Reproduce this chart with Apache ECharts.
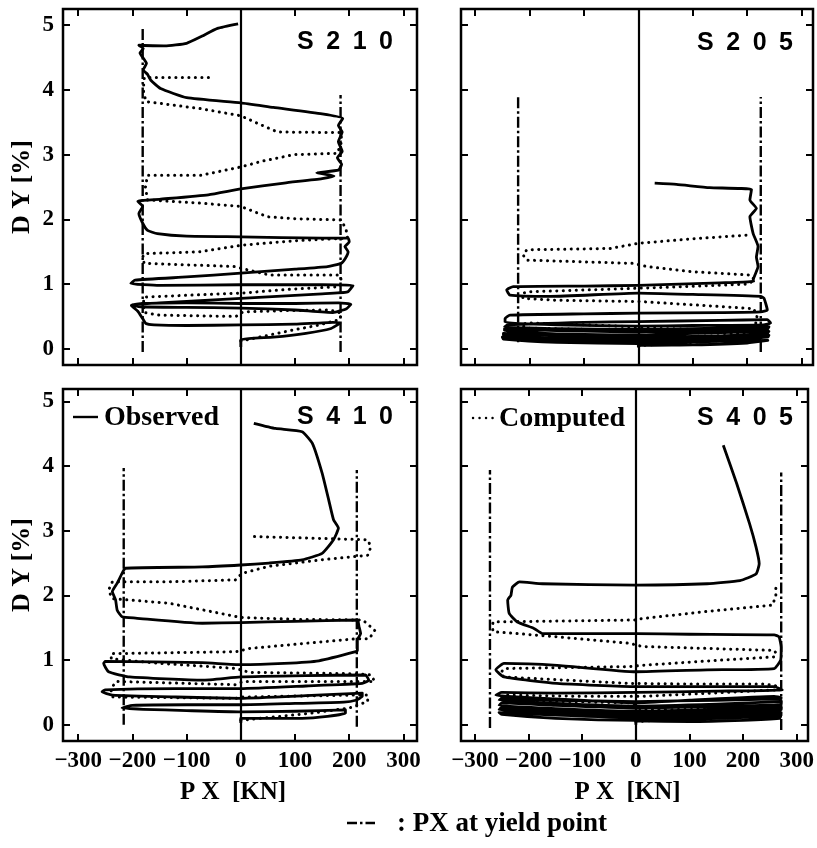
<!DOCTYPE html>
<html>
<head>
<meta charset="utf-8">
<script src="https://cdn.jsdelivr.net/npm/echarts@6/dist/echarts.min.js"></script>
<style>
html,body{margin:0;padding:0;background:#fff;}
#c{width:817px;height:848px;}
</style>
</head>
<body>
<div id="c"></div>
<script>
// ---------- data ----------
const X_TICKS = [-300, -200, -100, 0, 100, 200, 300];
const Y_TICKS = [0, 1, 2, 3, 4, 5];
const PANEL_NAMES = ['S\u20022\u20021\u20020', 'S\u20022\u20020\u20025', 'S\u20024\u20021\u20020', 'S\u20024\u20020\u20025'];

// Observed (solid) curves: [PX kN, DY %]
const obsS210 = [[0,0.03],[0,0.14],[60,0.18],[120,0.24],[165,0.31],[183,0.40],[170,0.41],[100,0.38],[0,0.37],[-100,0.36],[-160,0.37],[-175,0.39],[-182,0.48],[-190,0.58],[-202,0.67],[-180,0.70],[-100,0.71],[0,0.70],[100,0.70],[180,0.71],[203,0.69],[195,0.62],[170,0.56],[100,0.60],[0,0.63],[-100,0.64],[-185,0.65],[-202,0.68],[-150,0.71],[0,0.78],[150,0.85],[197,0.88],[207,0.98],[150,0.99],[0,0.99],[-150,0.98],[-203,1.01],[-195,1.06],[-100,1.11],[0,1.17],[100,1.23],[160,1.27],[185,1.32],[193,1.40],[198,1.50],[192,1.58],[200,1.65],[198,1.71],[150,1.71],[0,1.73],[-100,1.74],[-154,1.78],[-172,1.83],[-181,1.94],[-188,2.09],[-181,2.20],[-190,2.28],[-150,2.31],[-60,2.38],[0,2.47],[80,2.56],[150,2.63],[172,2.67],[140,2.72],[180,2.76],[186,2.85],[178,2.95],[187,3.05],[180,3.20],[187,3.35],[180,3.45],[188,3.56],[150,3.63],[60,3.73],[0,3.80],[-100,3.88],[-148,4.02],[-166,4.15],[-172,4.24],[-180,4.31],[-174,4.41],[-186,4.57],[-180,4.64],[-188,4.69],[-140,4.68],[-100,4.72],[-74,4.82],[-43,4.95],[-5,5.02]];
const obsS205 = [[0,0.02],[0,0.05],[100,0.06],[200,0.09],[238,0.13],[150,0.12],[0,0.08],[-150,0.10],[-248,0.15],[-250,0.18],[-150,0.14],[0,0.11],[150,0.14],[238,0.18],[240,0.21],[150,0.18],[0,0.14],[-150,0.16],[-248,0.21],[-248,0.24],[-150,0.20],[0,0.18],[150,0.20],[237,0.24],[240,0.27],[100,0.24],[0,0.21],[-150,0.23],[-246,0.28],[-246,0.31],[-150,0.28],[0,0.26],[150,0.28],[237,0.30],[240,0.34],[100,0.31],[0,0.30],[-150,0.31],[-246,0.34],[-240,0.37],[-100,0.41],[0,0.42],[150,0.44],[237,0.45],[243,0.40],[230,0.37],[100,0.36],[0,0.35],[-150,0.37],[-245,0.41],[-245,0.47],[-236,0.52],[-100,0.54],[0,0.55],[150,0.56],[225,0.57],[237,0.60],[231,0.78],[225,0.81],[100,0.84],[0,0.86],[-162,0.81],[-236,0.83],[-242,0.91],[-230,0.96],[-100,0.97],[0,0.98],[150,1.02],[212,1.04],[211,1.06],[220,1.27],[217,1.42],[220,1.58],[211,1.78],[205,2.04],[217,2.17],[205,2.30],[208,2.46],[131,2.49],[70,2.54],[30,2.56]];
const obsS410 = [[0,0.03],[0,0.10],[60,0.10],[113,0.10],[160,0.13],[193,0.18],[193,0.23],[100,0.21],[0,0.20],[-100,0.22],[-180,0.24],[-219,0.26],[-200,0.30],[-100,0.31],[0,0.31],[100,0.33],[190,0.35],[212,0.38],[224,0.44],[224,0.49],[120,0.45],[0,0.41],[-120,0.43],[-237,0.46],[-256,0.51],[-250,0.54],[-120,0.56],[0,0.56],[120,0.60],[224,0.64],[236,0.69],[230,0.77],[120,0.76],[0,0.74],[-71,0.69],[-205,0.74],[-244,0.82],[-253,0.95],[-250,0.98],[-71,0.96],[0,0.93],[80,0.95],[144,0.99],[212,1.13],[215,1.15],[215,1.31],[221,1.41],[218,1.52],[215,1.62],[100,1.60],[0,1.58],[-71,1.57],[-194,1.65],[-219,1.67],[-228,1.77],[-231,1.93],[-237,2.06],[-228,2.19],[-219,2.34],[-213,2.42],[-71,2.44],[0,2.47],[52,2.50],[113,2.55],[150,2.65],[171,2.86],[180,3.04],[171,3.17],[162,3.48],[150,3.89],[132,4.35],[113,4.53],[64,4.58],[24,4.66]];
const obsS405 = [[0,0.00],[0,0.06],[100,0.05],[200,0.07],[268,0.10],[270,0.13],[150,0.10],[0,0.07],[-150,0.10],[-250,0.16],[-255,0.19],[-150,0.15],[0,0.11],[150,0.13],[270,0.16],[271,0.19],[150,0.16],[0,0.14],[-150,0.18],[-255,0.23],[-252,0.26],[-150,0.22],[0,0.18],[150,0.20],[270,0.23],[271,0.27],[150,0.24],[0,0.21],[-150,0.25],[-255,0.30],[-250,0.34],[-150,0.30],[0,0.26],[150,0.28],[270,0.31],[271,0.36],[150,0.32],[0,0.29],[-150,0.33],[-255,0.38],[-250,0.41],[-150,0.38],[0,0.36],[150,0.38],[270,0.40],[271,0.42],[258,0.44],[100,0.38],[0,0.34],[-150,0.40],[-261,0.46],[-250,0.50],[-150,0.49],[0,0.50],[150,0.52],[273,0.54],[258,0.59],[100,0.59],[0,0.59],[-147,0.64],[-246,0.74],[-261,0.85],[-246,0.95],[-147,0.92],[0,0.82],[133,0.85],[258,0.87],[270,1.00],[271,1.20],[267,1.36],[258,1.39],[100,1.40],[0,1.41],[-174,1.41],[-190,1.49],[-221,1.59],[-236,1.72],[-239,1.93],[-233,2.00],[-230,2.13],[-217,2.21],[-174,2.18],[0,2.16],[133,2.18],[194,2.23],[224,2.33],[230,2.49],[224,2.75],[212,3.11],[188,3.73],[163,4.32]];

// Computed (dotted) curves
const calS210 = [[0,0.12],[40,0.19],[90,0.28],[140,0.36],[182,0.45],[186,0.55],[164,0.60],[80,0.59],[4,0.57],[-9,0.50],[-80,0.51],[-150,0.52],[-178,0.56],[-180,0.70],[-178,0.80],[-90,0.83],[0,0.86],[90,0.92],[182,0.96],[186,1.05],[182,1.14],[53,1.14],[-12,1.27],[-74,1.29],[-178,1.32],[-182,1.40],[-178,1.47],[-74,1.50],[0,1.60],[100,1.67],[197,1.71],[194,1.85],[185,1.99],[100,2.01],[49,2.04],[0,2.20],[-74,2.25],[-172,2.30],[-176,2.50],[-172,2.68],[-74,2.68],[0,2.81],[40,2.90],[98,3.00],[178,3.02],[186,3.20],[185,3.34],[68,3.35],[40,3.45],[0,3.60],[-74,3.71],[-175,3.82],[-180,4.00],[-178,4.19],[-58,4.19]];
const calS205 = [[0,0.05],[100,0.10],[200,0.16],[228,0.22],[150,0.24],[50,0.26],[0,0.28],[-100,0.30],[-205,0.32],[-215,0.37],[-205,0.40],[-100,0.37],[-9,0.34],[16,0.32],[100,0.30],[194,0.29],[215,0.36],[218,0.50],[212,0.62],[100,0.68],[4,0.73],[-150,0.75],[-212,0.78],[-214,0.85],[-205,0.88],[-21,0.93],[80,0.96],[200,1.00],[214,1.06],[206,1.14],[100,1.19],[16,1.27],[-9,1.32],[-205,1.37],[-212,1.45],[-205,1.53],[-52,1.55],[0,1.63],[100,1.70],[206,1.76]];
const calS410 = [[0,0.07],[60,0.12],[130,0.18],[200,0.26],[234,0.36],[234,0.46],[213,0.46],[4,0.43],[-9,0.41],[-120,0.42],[-236,0.43],[-240,0.55],[-230,0.67],[-9,0.62],[4,0.67],[213,0.67],[247,0.67],[240,0.77],[213,0.79],[16,0.81],[-9,0.87],[-58,0.90],[-150,0.95],[-239,1.02],[-239,1.10],[-9,1.13],[16,1.18],[120,1.26],[213,1.33],[237,1.33],[247,1.46],[225,1.62],[100,1.63],[0,1.66],[-133,1.88],[-237,1.95],[-244,2.08],[-237,2.21],[-133,2.21],[-10,2.24],[2,2.34],[52,2.45],[148,2.55],[234,2.62],[240,2.75],[234,2.86],[21,2.91]];
const calS405 = [[0,0.05],[130,0.12],[258,0.20],[262,0.25],[130,0.24],[12,0.23],[-12,0.34],[-246,0.38],[-252,0.42],[-246,0.46],[-100,0.44],[12,0.44],[140,0.49],[261,0.54],[262,0.60],[240,0.63],[100,0.63],[-12,0.64],[-246,0.74],[-252,0.80],[-246,0.87],[-12,0.90],[12,0.92],[140,0.99],[258,1.05],[262,1.10],[258,1.15],[12,1.21],[-12,1.26],[-147,1.36],[-266,1.44],[-268,1.52],[-266,1.59],[0,1.62],[10,1.64],[130,1.75],[255,1.85],[261,2.00],[261,2.13]];

// PX at yield point (dash-dot verticals)
const yieldLeftX   = [-181, -221, -216, -272];
const yieldRightX  = [184, 225, 214, 271];
const yieldLeftY   = [[-0.05, 4.97], [0.10, 3.92], [0.00, 3.97], [-0.05, 3.94]];
const yieldRightY  = [[-0.05, 3.92], [-0.05, 3.89], [-0.03, 3.94], [-0.08, 3.90]];

const observed = [obsS210, obsS205, obsS410, obsS405];
const computed = [calS210, calS205, calS410, calS405];

// ---------- layout ----------
const GRIDS = [
  {left: 63,  top: 9,   width: 354, height: 356},
  {left: 461, top: 9,   width: 352, height: 356},
  {left: 63,  top: 389, width: 354, height: 352},
  {left: 461, top: 389, width: 352, height: 352}
];
const XR = [[-328, 325], [-326, 321], [-328, 325], [-326, 321]];
const YR = [[-0.25, 5.25], [-0.25, 5.25], [-0.25, 5.19], [-0.25, 5.19]];

const SERIF = '"Liberation Serif", "DejaVu Serif", serif';
const SANS = '"Liberation Sans", "DejaVu Sans", sans-serif';
const fmtX = v => v < 0 ? '\u2212' + (-v) : String(v);

const xAxis = [], yAxis = [], series = [];
GRIDS.forEach((g, i) => {
  const bottomRow = i >= 2, leftCol = i % 2 === 0;
  const tick = {show: true, inside: true, length: 7, lineStyle: {color: '#000', width: 2}};
  ['bottom', 'top'].forEach(pos => {
    const lab = pos === 'bottom' && bottomRow;
    xAxis.push({
      type: 'value', gridIndex: i, position: pos, min: XR[i][0], max: XR[i][1],
      axisLine: {show: false, onZero: false}, splitLine: {show: false},
      axisTick: Object.assign({customValues: X_TICKS}, tick),
      axisLabel: {show: lab, customValues: X_TICKS, formatter: fmtX, color: '#000',
        fontFamily: SERIF, fontSize: 23, fontWeight: 'bold', margin: 9},
      name: lab ? 'P X  [KN]' : '', nameLocation: 'middle', nameGap: 39,
      nameTextStyle: {color: '#000', fontFamily: SERIF, fontSize: 25, fontWeight: 'bold', padding: [0, 14, 0, 0]}
    });
  });
  ['left', 'right'].forEach(pos => {
    const lab = pos === 'left' && leftCol;
    yAxis.push({
      type: 'value', gridIndex: i, position: pos, min: YR[i][0], max: YR[i][1],
      axisLine: {show: false, onZero: false}, splitLine: {show: false},
      axisTick: Object.assign({customValues: Y_TICKS}, tick),
      axisLabel: {show: lab, customValues: Y_TICKS, color: '#000',
        fontFamily: SERIF, fontSize: 23, fontWeight: 'bold', margin: 9},
      name: lab ? 'D Y [%]' : '', nameLocation: 'middle', nameGap: 28,
      nameTextStyle: {color: '#000', fontFamily: SERIF, fontSize: 26, fontWeight: 'bold'}
    });
  });
  const ax = {xAxisIndex: 2 * i, yAxisIndex: 2 * i};
  series.push(Object.assign({
    type: 'line', name: 'Observed', data: observed[i], symbol: 'none', silent: true, smooth: 0.15,
    lineStyle: {color: '#000', width: 2.8, join: 'round'},
    markLine: {silent: true, symbol: ['none', 'none'], label: {show: false},
      lineStyle: {color: '#000', width: 2.2, type: 'solid'}, data: [{xAxis: 0}]}
  }, ax));
  series.push(Object.assign({
    type: 'line', name: 'Computed', data: computed[i], symbol: 'none', silent: true,
    lineStyle: {color: '#000', width: 3, type: [0.1, 6.4], cap: 'round'}
  }, ax));
  [[yieldLeftX[i], yieldLeftY[i]], [yieldRightX[i], yieldRightY[i]]].forEach(([x, yy]) => {
    series.push(Object.assign({
      type: 'line', name: 'Yield', data: [[x, yy[0]], [x, yy[1]]], symbol: 'none', silent: true,
      lineStyle: {color: '#000', width: 2.4, type: [11, 3, 2.5, 3]}
    }, ax));
  });
});

// panel titles & legends
const graphic = [];
const titlePos = [[393, 42], [793, 43], [393, 417], [793, 418]];
PANEL_NAMES.forEach((t, i) => {
  graphic.push({type: 'text', x: titlePos[i][0], y: titlePos[i][1],
    style: {text: t, fill: '#000', font: 'bold 25px ' + SANS, textAlign: 'right', textVerticalAlign: 'middle'}});
});
graphic.push({type: 'line', shape: {x1: 73, y1: 417, x2: 98, y2: 417}, style: {stroke: '#000', lineWidth: 2.4}});
graphic.push({type: 'text', x: 104, y: 418, style: {text: 'Observed', fill: '#000', font: 'bold 28px ' + SERIF, textVerticalAlign: 'middle'}});
graphic.push({type: 'line', shape: {x1: 473, y1: 418, x2: 494, y2: 418}, style: {stroke: '#000', lineWidth: 2.4, lineDash: [0.1, 6.4], lineCap: 'round'}});
graphic.push({type: 'text', x: 499, y: 419, style: {text: 'Computed', fill: '#000', font: 'bold 28px ' + SERIF, textVerticalAlign: 'middle'}});
graphic.push({type: 'line', shape: {x1: 347, y1: 823, x2: 375, y2: 823}, style: {stroke: '#000', lineWidth: 2.4, lineDash: [10, 3, 2.5, 3]}});
graphic.push({type: 'text', x: 397, y: 824, style: {text: ': PX at yield point', fill: '#000', font: 'bold 27px ' + SERIF, textVerticalAlign: 'middle'}});

const chart = echarts.init(document.getElementById('c'), null, {renderer: 'canvas'});
chart.setOption({
  animation: false,
  backgroundColor: '#fff',
  grid: GRIDS.map(g => Object.assign({show: true, borderColor: '#000', borderWidth: 2.5, backgroundColor: 'transparent', containLabel: false}, g)),
  xAxis, yAxis, series, graphic
});
</script>
</body>
</html>
